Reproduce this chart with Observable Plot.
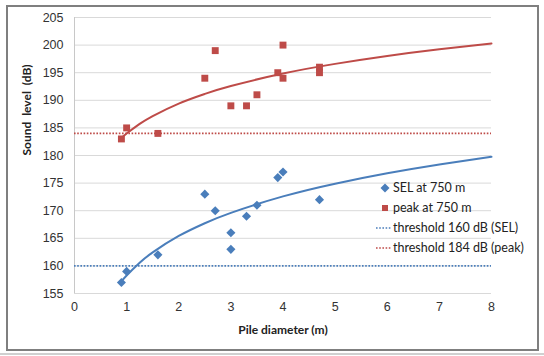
<!DOCTYPE html>
<html>
<head>
<meta charset="utf-8">
<script src="https://cdn.jsdelivr.net/npm/d3@7"></script>
<script src="https://cdn.jsdelivr.net/npm/@observablehq/plot@0.6"></script>
<style>
  html, body { margin: 0; padding: 0; background: #fff; }
  #wrap { position: relative; width: 544px; height: 356px; overflow: hidden; }
  #frame { position: absolute; left: 6px; top: 5px; width: 533px; height: 346px; box-sizing: border-box; border: 2px solid #7f7f7f; pointer-events: none; }
  #under { position: absolute; left: 0; top: 353px; width: 544px; height: 2px; background: #d0d0d0; }
  #legend { position: absolute; left: 372px; top: 178px; font-family: Lato, "Open Sans", sans-serif; font-size: 12.5px; color: #222; }
  .row { position: relative; height: 20px; line-height: 20px; padding-left: 21px; white-space: nowrap; }
  .row svg { position: absolute; left: 0; top: 0; }
</style>
</head>
<body>
<div id="wrap">
  <div id="chart"></div>
  <div id="frame"></div>
  <div id="under"></div>
  <div id="legend"></div>
</div>
<script>
// Data
const selX = [0.9, 1, 1.6, 2.5, 2.7, 3, 3, 3.3, 3.5, 3.9, 4, 4.7];
const selY = [157, 159, 162, 173, 170, 166, 163, 169, 171, 176, 177, 172];
const peakX = [0.9, 1, 1.6, 2.5, 2.7, 3, 3.3, 3.5, 3.9, 4, 4, 4.7, 4.7];
const peakY = [183, 185, 184, 194, 199, 189, 189, 191, 195, 200, 194, 196, 195];
// Logarithmic trend lines
const trendX = [0.9, 1, 1.25, 1.5, 2, 2.5, 3, 4, 5, 6, 7, 8];
const peakTrend = [183.14, 183.97, 185.72, 187.15, 189.41, 191.16, 192.59, 194.85, 196.60, 198.03, 199.24, 200.29];
const selTrend = [157.17, 158.26, 160.56, 162.45, 165.42, 167.73, 169.61, 172.59, 174.90, 176.78, 178.38, 179.76];
const thresholds = [160, 184];
const seriesNames = ["SEL at 750 m", "peak at 750 m", "threshold 160 dB (SEL)", "threshold 184 dB (peak)"];
const xTicks = [0, 1, 2, 3, 4, 5, 6, 7, 8];
const yTicks = [155, 160, 165, 170, 175, 180, 185, 190, 195, 200, 205];
const xTitle = "Pile diameter (m)";
const yTitle = "Sound  level  (dB)";

const blue = "#4a7ebb";
const red = "#be4b48";

const sel = selX.map((x, i) => ({x, y: selY[i]}));
const peak = peakX.map((x, i) => ({x, y: peakY[i]}));
const peakLine = trendX.map((x, i) => ({x, y: peakTrend[i]}));
const selLine = trendX.map((x, i) => ({x, y: selTrend[i]}));

const chart = Plot.plot({
  width: 544,
  height: 356,
  marginLeft: 74,
  marginRight: 53,
  marginTop: 17,
  marginBottom: 63,
  style: {fontFamily: "'Liberation Sans', Arial, sans-serif", fontSize: "12px", background: "transparent", color: "#333"},
  x: {domain: [0, 8], label: null},
  y: {domain: [155, 205], label: null},
  marks: [
    Plot.ruleY(yTicks, {stroke: "#d9d9d9", strokeWidth: 1}),
    Plot.ruleX([0], {stroke: "#c8c8c8", strokeWidth: 1}),
    Plot.axisX({ticks: xTicks, tickSize: 0, tickPadding: 9, fill: "#333", fontSize: 12.5, label: null}),
    Plot.axisY({ticks: yTicks, tickSize: 0, tickPadding: 11, fill: "#333", fontSize: 12.5, label: null}),
    Plot.ruleY([thresholds[0]], {stroke: blue, strokeWidth: 1.6, strokeDasharray: "1.6,1.6"}),
    Plot.ruleY([thresholds[1]], {stroke: red, strokeWidth: 1.6, strokeDasharray: "1.6,1.6"}),
    Plot.line(peakLine, {x: "x", y: "y", stroke: red, strokeWidth: 2, curve: "natural"}),
    Plot.line(selLine, {x: "x", y: "y", stroke: blue, strokeWidth: 2, curve: "natural"}),
    Plot.dot(sel, {x: "x", y: "y", symbol: "diamond2", r: 4.1, fill: blue, stroke: "none"}),
    Plot.dot(peak, {x: "x", y: "y", symbol: "square", r: 3.9, fill: red, stroke: "none"}),
    Plot.text([xTitle], {frameAnchor: "bottom", dy: 40, fontFamily: "Lato, sans-serif", fontWeight: "bold", fontSize: 12, fill: "#222"}),
    Plot.text([yTitle], {frameAnchor: "left", dx: -47, rotate: -90, fontFamily: "Lato, sans-serif", fontWeight: "bold", fontSize: 12, fill: "#222"})
  ]
});
chart.querySelectorAll("text").forEach(t => { if (t.textContent === yTitle) t.setAttribute("xml:space", "preserve"); t.style.whiteSpace = "pre"; });
document.getElementById("chart").appendChild(chart);

// Legend
const legend = document.getElementById("legend");
const icons = [
  `<svg width="20" height="20"><path d="M13,5.5 L17.5,10 L13,14.5 L8.5,10 Z" fill="${blue}"/></svg>`,
  `<svg width="20" height="20"><rect x="10" y="7" width="6" height="6" fill="${red}"/></svg>`,
  `<svg width="20" height="20"><line x1="4" x2="20" y1="10" y2="10" stroke="${blue}" stroke-width="1.6" stroke-dasharray="1.6,1.6"/></svg>`,
  `<svg width="20" height="20"><line x1="4" x2="20" y1="10" y2="10" stroke="${red}" stroke-width="1.6" stroke-dasharray="1.6,1.6"/></svg>`
];
seriesNames.forEach((name, i) => {
  const row = document.createElement("div");
  row.className = "row";
  row.innerHTML = icons[i] + name;
  legend.appendChild(row);
});
</script>
</body>
</html>
